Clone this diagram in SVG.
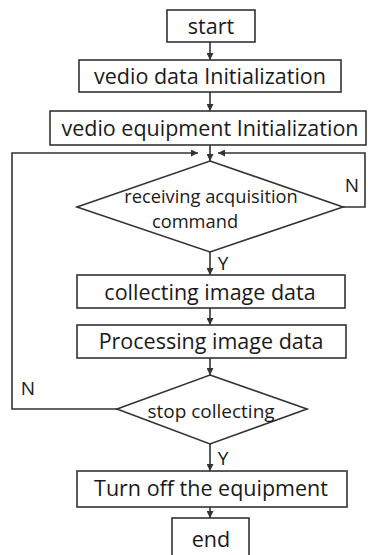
<svg xmlns="http://www.w3.org/2000/svg" width="368" height="555" viewBox="0 0 368 555">
<style>
.b{fill:#fff;stroke:#333;stroke-width:1.6}
.t{font-family:"Open Sans","Noto Sans",sans-serif;fill:#1a1a1a;text-anchor:middle}
.l{font-size:21.5px}
.s{font-size:19px}
.c{fill:none;stroke:#333;stroke-width:1.6}
</style>
<defs>
<marker id="a" viewBox="0 0 10 10" refX="10" refY="5" markerWidth="7" markerHeight="7" markerUnits="userSpaceOnUse" orient="auto">
<path d="M0,0L10,5L0,10z" fill="#333"/>
</marker>
</defs>
<g id="connectors">
<path class="c" d="M210,42V60" marker-end="url(#a)"/>
<path class="c" d="M210,92V111" marker-end="url(#a)"/>
<path class="c" d="M210,145V161" marker-end="url(#a)"/>
<path class="c" d="M343,207H365V153H218" marker-end="url(#a)"/>
<path class="c" d="M117,409H12V153H198" marker-end="url(#a)"/>
<path class="c" d="M210,252V275" marker-end="url(#a)"/>
<path class="c" d="M210,308V325" marker-end="url(#a)"/>
<path class="c" d="M210,358V375" marker-end="url(#a)"/>
<path class="c" d="M210,444V471" marker-end="url(#a)"/>
<path class="c" d="M210,507V518" marker-end="url(#a)"/>
<text class="t" x="352" y="192" font-size="19">N</text>
<text class="t" x="223" y="270" font-size="19">Y</text>
<text class="t" x="28" y="395" font-size="19">N</text>
<text class="t" x="223" y="465" font-size="19">Y</text>
</g>
<g id="start"><rect class="b" x="167" y="10" width="88" height="32"/><text class="t l" x="211" y="34">start</text></g>
<g id="data-init"><rect class="b" x="79" y="60" width="262" height="32"/><text class="t l" x="210" y="84">vedio data Initialization</text></g>
<g id="equip-init"><rect class="b" x="50" y="111" width="316" height="34"/><text class="t l" x="210" y="136">vedio equipment Initialization</text></g>
<g id="receiving"><polygon class="b" points="210,161 343,207 210,252 77,207"/><text class="t" font-size="18.3" x="211" y="203">receiving acquisition</text><text class="t" font-size="18.3" x="195" y="228">command</text></g>
<g id="collecting"><rect class="b" x="77" y="275" width="268" height="33"/><text class="t l" x="210" y="300">collecting image data</text></g>
<g id="processing"><rect class="b" x="77" y="325" width="269" height="33"/><text class="t l" x="211" y="349">Processing image data</text></g>
<g id="stop"><polygon class="b" points="210,375 307,409 210,444 117,409"/><text class="t s" x="211" y="418">stop collecting</text></g>
<g id="turnoff"><rect class="b" x="77" y="471" width="270" height="36"/><text class="t l" x="211" y="496">Turn off the equipment</text></g>
<g id="end"><rect class="b" x="172" y="518" width="77" height="40"/><text class="t l" x="211" y="547">end</text></g>
</svg>
